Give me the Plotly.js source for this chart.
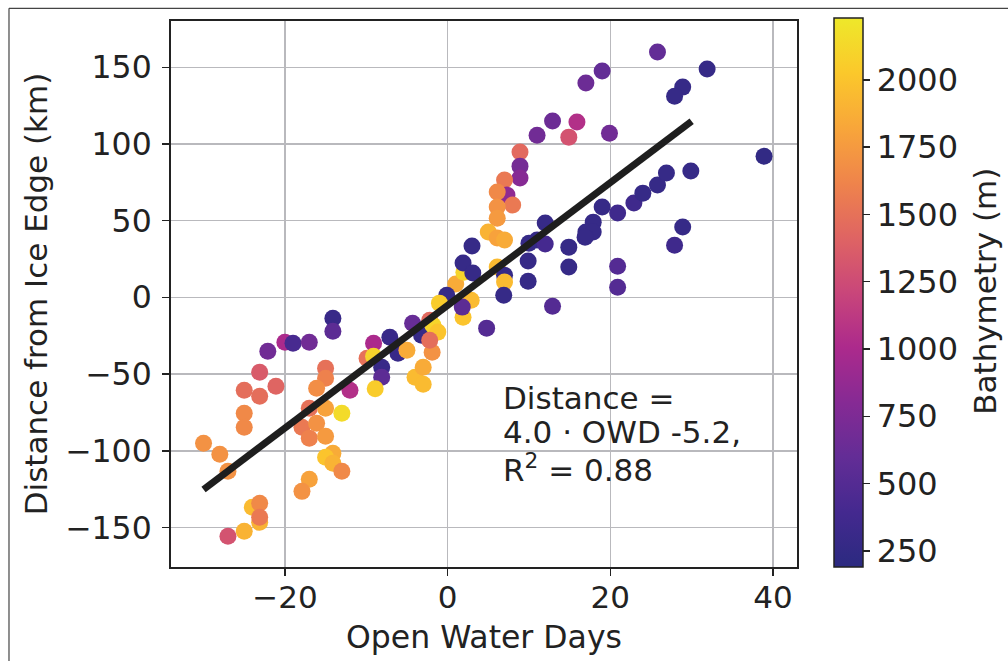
<!DOCTYPE html>
<html>
<head>
<meta charset="utf-8">
<script src="https://cdn.plot.ly/plotly-3.0.1.min.js"></script>
<style>
html,body{margin:0;padding:0;background:#fff;}
#chart{width:1008px;height:661px;}
</style>
</head>
<body>
<div id="chart"></div>
<script>
// Open Water Days (x), Distance from Ice Edge in km (y), Bathymetry in m (colour)
const owd = [
 -30.0,-28.0,-27.0,-25.0,-25.0,-25.0,-23.1,-23.1,-21.1,-22.1,-20.0,-19.0,-17.0,-14.1,-14.1,
 -15.0,-15.0,-16.1,-12.0,-17.0,-15.0,-17.9,-16.1,-17.0,-15.0,-13.0,-14.1,-15.0,-14.1,-13.0,
 -17.0,-17.9,-24.0,-23.1,-23.1,-23.1,-25.0,-27.0,
 -9.1,-9.9,-9.1,-7.1,-8.1,-8.1,-8.9,-6.1,-5.0,-4.3,-3.2,-2.2,-1.8,-1.2,-1.9,-4.0,-3.0,-3.0,
 1.0,2.9,1.9,4.8,-0.1,-1.0,1.8,2.0,3.0,1.9,3.1,-2.2,
 11.0,14.9,19.9,8.9,8.9,8.9,7.0,7.3,6.1,8.0,6.1,6.1,5.0,6.1,7.0,6.1,7.0,7.0,6.9,
 10.0,11.0,12.0,12.0,9.9,9.9,12.9,14.9,14.9,17.9,17.0,17.9,16.9,19.0,20.9,20.9,20.9,
 22.9,24.0,25.8,26.9,29.9,28.9,27.9,38.9,25.8,19.0,17.0,28.9,27.9,31.9,12.9,15.9
];
const distance = [
 -95.0,-102.2,-113.3,-60.5,-75.5,-84.6,-48.7,-64.4,-57.9,-35.0,-29.2,-29.8,-29.2,-13.5,-22.0,
 -46.1,-52.6,-59.2,-60.5,-72.2,-72.2,-84.6,-82.0,-91.7,-90.5,-75.5,-101.5,-104.2,-108.1,-113.3,
 -118.5,-126.4,-136.8,-134.2,-146.6,-143.3,-152.4,-155.7,
 -29.8,-39.6,-38.3,-25.9,-45.5,-52.0,-59.5,-36.3,-34.4,-16.8,-24.6,-14.8,-18.1,-22.6,-35.7,-52.0,-45.5,-56.6,
 8.7,-1.8,-12.9,-20.0,1.5,-3.7,-6.3,16.5,33.5,22.4,15.9,-27.9,
 105.8,104.5,107.1,94.8,85.6,77.8,76.5,66.7,68.7,60.2,58.9,51.7,42.6,38.7,37.4,19.8,14.5,10.0,1.5,
 35.4,37.4,48.5,34.8,23.7,10.6,-5.7,32.8,19.8,49.1,42.6,42.6,39.3,58.9,55.0,20.4,6.7,
 61.5,68.0,73.3,81.1,82.4,45.9,34.1,92.1,160.0,147.6,139.8,137.1,131.2,148.9,115.0,114.3
];
const bathymetry = [
 1700,1700,1700,1480,1650,1650,1350,1480,1420,680,1000,420,680,300,550,
 1500,1600,1680,1050,1500,1800,1550,1700,1600,1750,2150,1850,2000,1900,1650,
 1800,1700,1950,1650,1900,1550,1900,1300,
 1000,1500,2100,300,300,550,2050,300,1850,620,280,1450,2100,2000,1700,1950,1850,1950,
 1850,1950,2000,500,280,2050,550,2100,280,280,280,1480,
 680,1300,680,1450,700,800,1550,850,1650,1550,1700,1750,1900,1800,1850,1950,280,1950,280,
 280,280,280,400,280,280,500,280,280,280,280,280,280,280,350,500,500,
 350,280,280,280,280,280,350,250,600,600,650,280,280,280,650,1050
];
// Regression: Distance = 4.0 * OWD - 5.2, fitted over OWD -30..30
const fitSlope = 4.0;
const fitIntercept = -5.2;
const fitRange = [-30, 30];
const xTicks = [-20, 0, 20, 40];
const yTicks = [-150, -100, -50, 0, 50, 100, 150];
const cbTicks = [250, 500, 750, 1000, 1250, 1500, 1750, 2000];
const annoLines = ["Distance =", "4.0 \u00b7 OWD -5.2,", "R<sup>2</sup> = 0.88"];
const cbTitle = "Bathymetry (m)";

const fitX = fitRange.slice();
const fitY = fitX.map(v => fitSlope * v + fitIntercept);

const plasma = [
 [0.0,'#2b2a80'],[0.1,'#44298f'],[0.2,'#632d96'],[0.3,'#862a94'],[0.4,'#ac2a8c'],
 [0.5,'#c9467a'],[0.6,'#df6463'],[0.7,'#ef844b'],[0.8,'#f8a63a'],[0.9,'#fbc82b'],[1.0,'#eee82a']
];

const font = 'DejaVu Sans, sans-serif';
const txt = '#222';

const scatter = {
  type: 'scatter', mode: 'markers', x: owd, y: distance,
  marker: {
    size: 17, color: bathymetry, colorscale: plasma, cmin: 190, cmax: 2230,
    line: {width: 0},
    colorbar: {
      thickness: 29, lenmode: 'pixels', len: 549, y: 0, yanchor: 'bottom', ypad: 0,
      x: 1.0595, xanchor: 'left', xpad: 0,
      outlinewidth: 1.5, outlinecolor: '#222',
      tickmode: 'array', tickvals: cbTicks, ticks: 'outside', ticklen: 7, tickwidth: 1.5, tickcolor: '#222',
      tickfont: {family: font, size: 32, color: txt}
    }
  },
  hoverinfo: 'skip', showlegend: false
};
const fit = {
  type: 'scatter', mode: 'lines', x: fitX, y: fitY,
  line: {color: '#1e1e1e', width: 7}, hoverinfo: 'skip', showlegend: false
};

const annoY = [-65.8, -87.9, -110.9];
const annotations = annoLines.map((t, i) => ({
  x: 6.6, y: annoY[i], xref: 'x', yref: 'y', xanchor: 'left', yanchor: 'middle',
  text: t, showarrow: false, font: {family: font, size: 31, color: txt}
}));
annotations.push({
  x: 1.3008, y: 0.5046, xref: 'paper', yref: 'paper', xanchor: 'center', yanchor: 'middle',
  text: cbTitle, textangle: -90, showarrow: false, font: {family: font, size: 31, color: txt}
});

const layout = {
  width: 1008, height: 661,
  margin: {l: 171, r: 211, t: 21, b: 94, pad: 0},
  paper_bgcolor: '#fff', plot_bgcolor: '#fff',
  font: {family: font, color: txt},
  xaxis: {
    range: [-34.0, 42.95], tickmode: 'array', tickvals: xTicks,
    showgrid: true, gridcolor: '#b9b9bd', gridwidth: 1.5, zeroline: false,
    showline: true, linecolor: '#222', linewidth: 2, mirror: true,
    ticks: 'outside', ticklen: 7, tickwidth: 1.5, tickcolor: '#222', ticklabelstandoff: -5,
    tickfont: {family: font, size: 31, color: txt},
    title: {text: 'Open Water Days', font: {family: font, size: 31.5, color: txt}, standoff: 12},
    automargin: false
  },
  yaxis: {
    range: [-175.7, 180.2], tickmode: 'array', tickvals: yTicks,
    showgrid: true, gridcolor: '#b9b9bd', gridwidth: 1.5, zeroline: false,
    showline: true, linecolor: '#222', linewidth: 2, mirror: true,
    ticks: 'outside', ticklen: 7, tickwidth: 1.5, tickcolor: '#222', ticklabelstandoff: 4,
    tickfont: {family: font, size: 31.5, color: txt},
    title: {text: 'Distance from Ice Edge (km)', font: {family: font, size: 31, color: txt}, standoff: 8},
    automargin: false
  },
  annotations: annotations,
  shapes: [
    {type: 'line', xref: 'paper', yref: 'paper', x0: -0.2588, x1: 1.4, y0: 1.0233, y1: 1.0233, line: {color: '#444', width: 1.2}},
    {type: 'line', xref: 'paper', yref: 'paper', x0: -0.2588, x1: -0.2588, y0: -0.3, y1: 1.0233, line: {color: '#444', width: 1.2}}
  ]
};

Plotly.newPlot('chart', [scatter, fit], layout, {displayModeBar: false, staticPlot: true});
</script>
</body>
</html>
